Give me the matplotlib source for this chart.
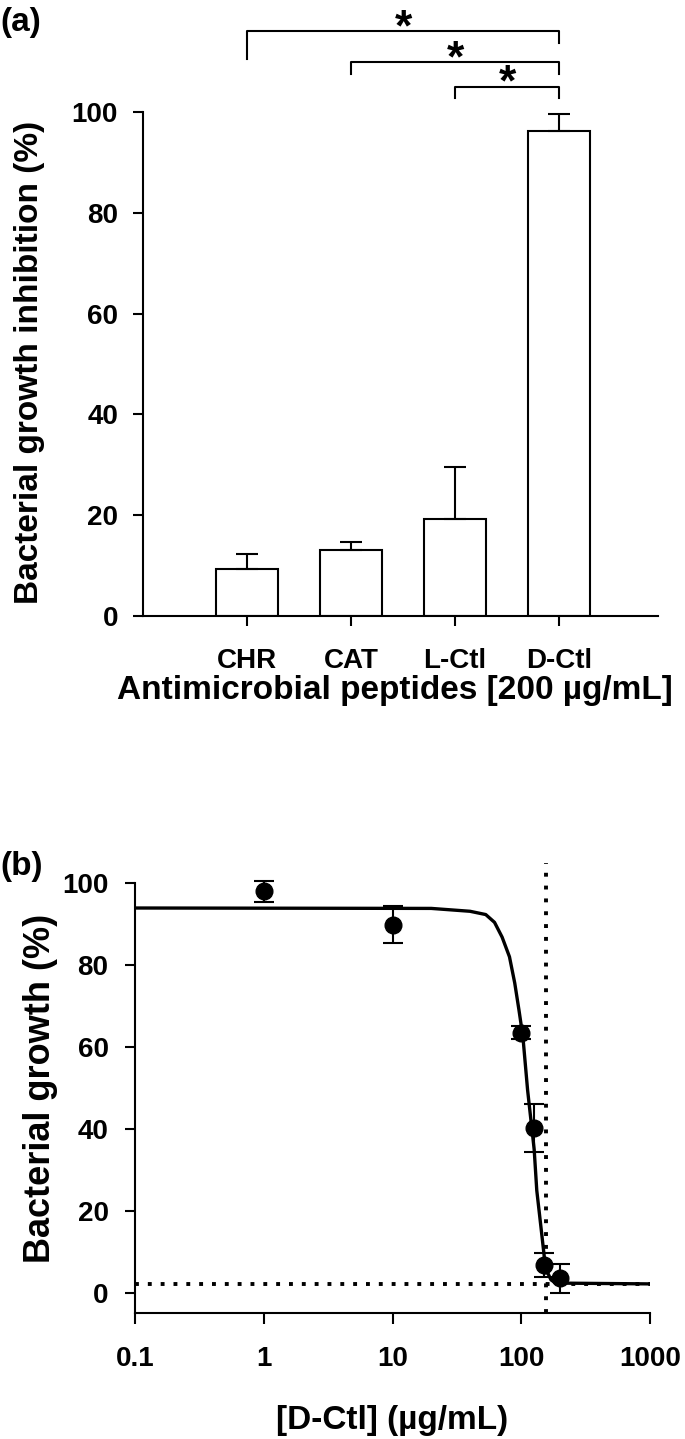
import numpy as np
import matplotlib
matplotlib.use('Agg')
import matplotlib.pyplot as plt

plt.rcParams['font.family'] = ['Liberation Sans', 'DejaVu Sans']
plt.rcParams['font.weight'] = 'bold'
plt.rcParams['axes.linewidth'] = 1.5

# panel (a) data
peptides = ['CHR', 'CAT', 'L-Ctl', 'D-Ctl']
inhibition = [9.3, 13.1, 19.2, 96.3]
inhibition_err = [3.0, 1.6, 10.4, 3.3]

# significance brackets (from, to)
pairs = [(1, 4), (2, 4), (3, 4)]

# panel (b) data
conc = [1, 10, 100, 125, 150, 200]
growth = [98.0, 89.8, 63.5, 40.2, 6.8, 3.6]
growth_err = [2.6, 4.5, 1.5, 5.8, 3.0, 3.5]

# fitted curve
fit_x = [0.1, 20, 40, 53, 62, 71, 81, 89, 96, 103, 112, 126, 132, 143, 151, 160, 170, 185, 1000]
fit_y = [93.9, 93.8, 93.1, 92.3, 90.4, 86.8, 82.0, 75.6, 69.0, 62.5, 49.5, 35.0, 25.0, 15.4, 8.8, 5.0, 3.2, 2.4, 2.2]

mic = 157
bottom_level = 2.1

W, H = 685, 1439
fig = plt.figure(figsize=(W / 100, H / 100), dpi=100)

# %% panel (a)
ax = fig.add_axes([143 / W, 1 - 616 / H, (658 - 143) / W, (616 - 112) / H])
x = np.arange(1, len(peptides) + 1)
ax.bar(x, inhibition, 0.59, color='white', edgecolor='black', linewidth=1.5,
       yerr=[np.zeros(len(inhibition_err)), inhibition_err], capsize=8,
       error_kw=dict(elinewidth=1.5, capthick=1.5, ecolor='black'))
ax.set_xlim(0, 4.95)
ax.set_ylim(0, 100)
ax.spines['top'].set_visible(False)
ax.spines['right'].set_visible(False)
ax.spines['left'].set_bounds(0, 100)
ax.set_xticks(x)
ax.set_xticklabels(peptides)
ax.set_yticks(np.arange(0, 101, 20))
ax.tick_params(axis='y', direction='out', length=7, width=1.5, pad=11, labelsize=20)
ax.tick_params(axis='x', direction='out', length=7, width=1.5, pad=16, labelsize=20)

# brackets: top line, left leg end, right leg end, star baseline
levels = [(116.1, 110.5, 113.7, 114.3), (109.9, 107.5, 107.5, 108.1), (105.0, 102.8, 102.8, 103.2)]
for (a, b), (top, leg_l, leg_r, star_y) in zip(pairs, levels):
    ax.plot([a, a, b, b], [leg_l, top, top, leg_r], color='black', lw=1.5, clip_on=False)
    ax.text((a + b) / 2, star_y, '*', ha='center', va='baseline', fontsize=32, clip_on=False)

fig.text(0.0, 1 - 22 / H, '(a)', ha='left', va='center', fontsize=24)
fig.text(30 / W, 1 - 362 / H, 'Bacterial growth inhibition (%)', rotation=90,
         ha='center', va='center', fontsize=24)
fig.text(395 / W, 1 - 690 / H, 'Antimicrobial peptides [200 µg/mL]', ha='center', va='center', fontsize=24)

# %% panel (b)
ymin, ymax = -4.9, 105
bx = fig.add_axes([135 / W, 1 - 1313 / H, (650 - 135) / W, (1313 - 862.5) / H])
bx.set_xscale('log')
bx.set_xlim(0.1, 1000)
bx.set_ylim(ymin, ymax)
bx.plot([0.1, 1000], [bottom_level, bottom_level], color='black', lw=2.8,
        linestyle=(0, (1, 2.3)), clip_on=False)
bx.plot([mic, mic], [ymin, ymax], color='black', lw=2.8,
        linestyle=(0, (1, 2.3)), clip_on=False)
bx.plot(fit_x, fit_y, color='black', lw=2.4)
bx.errorbar(conc, growth, yerr=growth_err, fmt='o', color='black', ms=12,
            elinewidth=1.5, capsize=7, capthick=1.5)
bx.spines['top'].set_visible(False)
bx.spines['right'].set_visible(False)
bx.spines['left'].set_bounds(ymin, 100)
bx.set_xticks([0.1, 1, 10, 100, 1000])
bx.set_xticklabels(['0.1', '1', '10', '100', '1000'])
bx.xaxis.set_minor_locator(matplotlib.ticker.NullLocator())
bx.set_yticks(np.arange(0, 101, 20))
bx.tick_params(axis='y', direction='out', length=7, width=1.5, pad=12, labelsize=20)
bx.tick_params(axis='x', direction='out', length=8, width=1.5, pad=16, labelsize=20)

fig.text(0.0, 1 - 867 / H, '(b)', ha='left', va='center', fontsize=24)
fig.text(41 / W, 1 - 1088 / H, 'Bacterial growth (%)', rotation=90,
         ha='center', va='center', fontsize=26)
fig.text(392 / W, 1 - 1420 / H, '[D-Ctl] (µg/mL)', ha='center', va='center', fontsize=24)

fig.savefig('out.png', dpi=100)
